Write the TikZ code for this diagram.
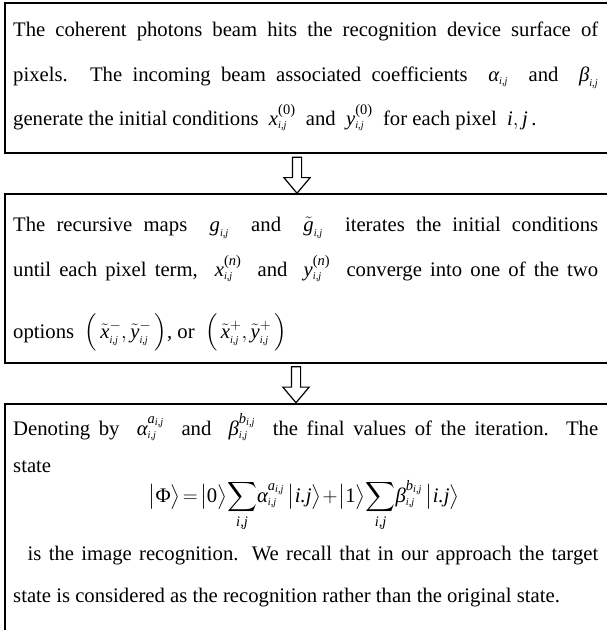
\documentclass[tikz,border=0pt]{standalone}
\usepackage{amsmath}
\usepackage{exscale}
\usepackage{fontspec}
\setmainfont{Liberation Serif}
\usetikzlibrary{shapes.arrows}
\newcommand{\mi}[1]{\text{\normalfont\itshape #1}}
\newcommand{\mup}[1]{\text{\normalfont #1}}
\newcommand{\sij}{{\scriptscriptstyle\mi{i,j}}}
\tikzset{
  boxst/.style={draw, line width=2pt, rectangle, inner sep=0pt, anchor=north west, minimum width=612pt},
  txt/.style={anchor=base west, inner sep=0pt, font=\fontsize{20.7}{25}\selectfont},
  downarrow/.style={single arrow, draw, line width=1.2pt, shape border rotate=270, inner sep=0pt,
    minimum width=25pt, minimum height=36pt, single arrow head extend=8.5pt, single arrow tip angle=80, text width=8pt}
}
\begin{document}
\begin{tikzpicture}[x=1pt,y=-1pt]
\useasboundingbox (0,0) rectangle (606,630);
% boxes
\node[boxst, minimum height=150.5pt] (b1) at (4,1.5) {};
\node[boxst, minimum height=169pt] (b2) at (4,192.5) {};
\node[boxst, minimum height=240pt] (b3) at (4,403) {};
% arrows
\node[downarrow] (a1) at (297,172.5) {};
\node[downarrow] (a2) at (296,382) {};
% box 1 text
\node[txt] (t11) at (13,36) {\makebox[585pt][s]{The coherent photons beam hits the recognition device surface of}};
\node[txt] (t12) at (13,81) {\makebox[585pt][s]{pixels. The incoming beam associated coefficients \ $\mi{α}_\sij$ \ and \ $\mi{β}_\sij$}};
\node[txt] (t13) at (13,125) {generate the initial conditions \ $\mi{x}_\sij^{\mup{(0)}}$ \ and \ $\mi{y}_\sij^{\mup{(0)}}$ \ for each pixel \ $\mi{i}, \mi{j}$\,.};
% box 2 text
\node[txt] (t21) at (13,231) {\makebox[585pt][s]{The recursive maps \ $\mi{g}_\sij$ \ and \ $\tilde{\mi{g}}_\sij$ \ iterates the initial conditions}};
\node[txt] (t22) at (13,276) {\makebox[585pt][s]{until each pixel term, \ $\mi{x}_\sij^{\mup{(\itshape n\upshape)}}$ \ and \ $\mi{y}_\sij^{\mup{(\itshape n\upshape)}}$ \ converge into one of the two}};
\node[txt] (t23) at (13,338) {options \ $\Bigl(\,\tilde{\mi{x}}_\sij^{-},\tilde{\mi{y}}_\sij^{-}\,\Bigr)$, or \ $\Bigl(\,\tilde{\mi{x}}_\sij^{+},\tilde{\mi{y}}_\sij^{+}\,\Bigr)$};
% box 3 text
\node[txt] (t31) at (13,435) {\makebox[585pt][s]{Denoting by \ $\mi{α}_\sij^{\mi{a}_\sij}$ \ and \ $\mi{β}_\sij^{\mi{b}_\sij}$ \ the final values of the iteration. The}};
\node[txt] (t32) at (13,472) {state};
\node[txt, anchor=base] (t33) at (304,502) {$\displaystyle \bigl|\mup{Φ}\bigr\rangle\! = \!\bigl|\mup{0}\bigr\rangle\! \sum_{\mi{i,j}}\!\mi{α}_\sij^{\mi{a}_\sij}\,\bigl|\mi{i.j}\bigr\rangle\! + \!\bigl|\mup{1}\bigr\rangle\! \sum_{\mi{i,j}}\!\mi{β}_\sij^{\mi{b}_\sij}\,\bigl|\mi{i.j}\bigr\rangle$};
\node[txt] (t34) at (13,560) {\makebox[585pt][s]{\ \ is the image recognition. We recall that in our approach the target}};
\node[txt] (t35) at (13,602) {state is considered as the recognition rather than the original state.};
\end{tikzpicture}
\end{document}
